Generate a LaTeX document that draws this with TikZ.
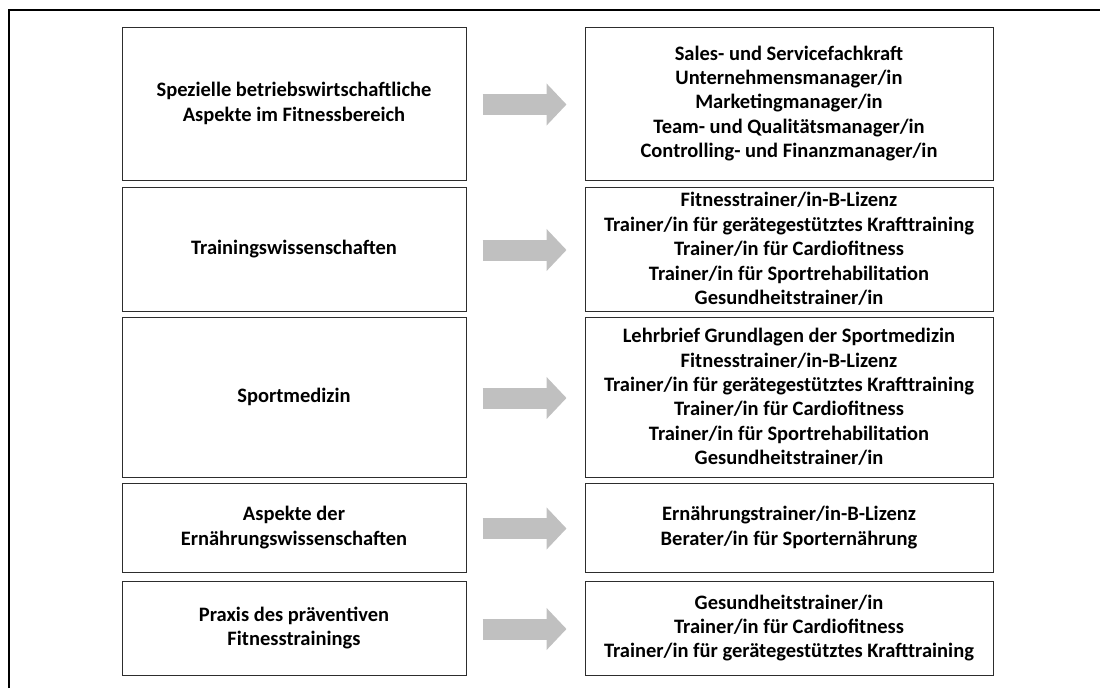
\documentclass[tikz,border=0pt]{standalone}
\usepackage{fontspec}
\setmainfont{Carlito}
\usetikzlibrary{arrows.meta}
\definecolor{arrowgray}{RGB}{192,192,192}
\definecolor{boxline}{RGB}{45,45,45}
\begin{document}
\begin{tikzpicture}[x=1pt,y=-1pt,
  box/.style={draw=boxline, line width=1pt, align=center, inner sep=0pt,
    font=\bfseries\fontsize{20.5}{24.4}\selectfont},
  leftbox/.style={box, minimum width=344pt},
  rightbox/.style={box, minimum width=408pt},
  bigarrow/.style={draw=arrowgray, line width=21pt, -{Triangle[length=20pt,width=41pt]}},
  frameline/.style={line width=2.8pt, draw=black}]
\useasboundingbox (0,0) rectangle (1100,688);
\draw[frameline] (9,688) -- (9,10) -- (1100,10);

\node[leftbox, minimum height=153pt] (l1) at (294,103.5) {Spezielle betriebswirtschaftliche\\Aspekte im Fitnessbereich};
\node[leftbox, minimum height=124pt] (l2) at (294,249) {Trainingswissenschaften};
\node[leftbox, minimum height=160pt] (l3) at (294,397) {Sportmedizin};
\node[leftbox, minimum height=89pt] (l4) at (294,527.5) {Aspekte der\\Ernährungswissenschaften};
\node[leftbox, minimum height=94pt] (l5) at (294,628) {Praxis des präventiven\\Fitnesstrainings};

\node[rightbox, minimum height=153pt] (r1) at (789,103.5) {Sales- und Servicefachkraft\\Unternehmensmanager/in\\Marketingmanager/in\\Team- und Qualitätsmanager/in\\Controlling- und Finanzmanager/in};
\node[rightbox, minimum height=124pt] (r2) at (789,249) {Fitnesstrainer/in-B-Lizenz\\Trainer/in für gerätegestütztes Krafttraining\\Trainer/in für Cardiofitness\\Trainer/in für Sportrehabilitation\\Gesundheitstrainer/in};
\node[rightbox, minimum height=160pt] (r3) at (789,397) {Lehrbrief Grundlagen der Sportmedizin\\Fitnesstrainer/in-B-Lizenz\\Trainer/in für gerätegestütztes Krafttraining\\Trainer/in für Cardiofitness\\Trainer/in für Sportrehabilitation\\Gesundheitstrainer/in};
\node[rightbox, minimum height=89pt] (r4) at (789,527.5) {Ernährungstrainer/in-B-Lizenz\\Berater/in für Sporternährung};
\node[rightbox, minimum height=94pt] (r5) at (789,628) {Gesundheitstrainer/in\\Trainer/in für Cardiofitness\\Trainer/in für gerätegestütztes Krafttraining};

\foreach \i in {1,...,5}{
  \draw[bigarrow] ([xshift=16pt,yshift=-1pt]l\i.east) -- ([xshift=-18pt,yshift=-1pt]r\i.west);
}
\end{tikzpicture}
\end{document}
